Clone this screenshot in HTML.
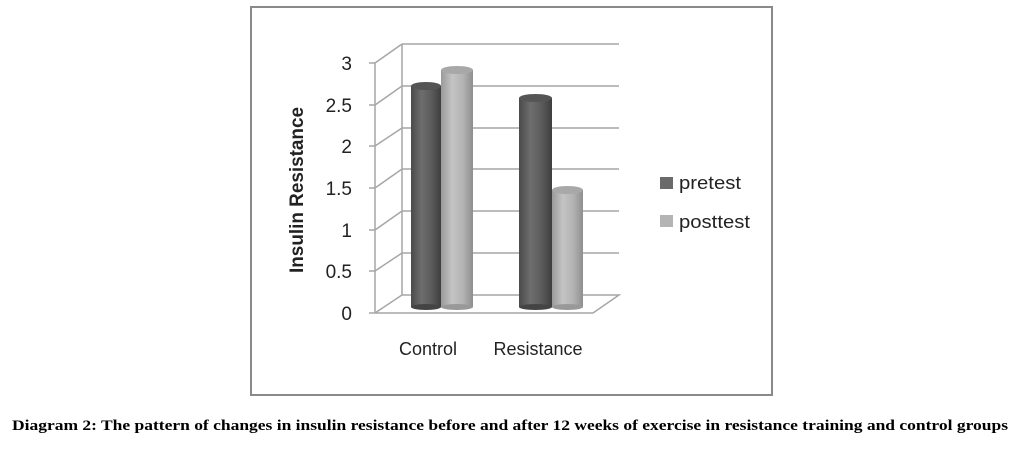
<!DOCTYPE html>
<html><head><style>
body{margin:0;background:#fff;width:1014px;height:448px;overflow:hidden}
</style></head><body>
<svg width="1014" height="448" xmlns="http://www.w3.org/2000/svg">
<defs>
<linearGradient id="d" x1="0" x2="1" y1="0" y2="0">
<stop offset="0" stop-color="#4a4a4a"/><stop offset="0.35" stop-color="#6e6e6e"/><stop offset="0.7" stop-color="#5a5a5a"/><stop offset="1" stop-color="#3e3e3e"/></linearGradient>
<linearGradient id="l" x1="0" x2="1" y1="0" y2="0">
<stop offset="0" stop-color="#9a9a9a"/><stop offset="0.35" stop-color="#c4c4c4"/><stop offset="0.7" stop-color="#b2b2b2"/><stop offset="1" stop-color="#8e8e8e"/></linearGradient>
</defs>
<rect x="251" y="7" width="521" height="388" fill="#fff" stroke="#8a8a8a" stroke-width="2"/>
<g stroke="#a6a6a6" stroke-width="1.5" fill="none">
<line x1="402" y1="44" x2="402" y2="295"/>
<line x1="375" y1="63" x2="375" y2="313"/>
<polyline points="375,313 593,313 619,295 402,295 375,313"/>
<g>
<line x1="402" y1="44" x2="619" y2="44"/><line x1="375" y1="63" x2="402" y2="44"/>
<line x1="402" y1="86" x2="619" y2="86"/><line x1="375" y1="105" x2="402" y2="86"/>
<line x1="402" y1="128" x2="619" y2="128"/><line x1="375" y1="146" x2="402" y2="128"/>
<line x1="402" y1="169" x2="619" y2="169"/><line x1="375" y1="188" x2="402" y2="169"/>
<line x1="402" y1="211" x2="619" y2="211"/><line x1="375" y1="230" x2="402" y2="211"/>
<line x1="402" y1="253" x2="619" y2="253"/><line x1="375" y1="271" x2="402" y2="253"/>
</g>
<line x1="369" y1="63" x2="375" y2="63"/><line x1="369" y1="105" x2="375" y2="105"/><line x1="369" y1="146" x2="375" y2="146"/><line x1="369" y1="188" x2="375" y2="188"/><line x1="369" y1="230" x2="375" y2="230"/><line x1="369" y1="271" x2="375" y2="271"/><line x1="369" y1="313" x2="375" y2="313"/>
</g>
<g>
<rect x="411" y="86" width="30" height="221" fill="url(#d)"/><ellipse cx="426" cy="307" rx="15" ry="3" fill="#444"/><ellipse cx="426" cy="86" rx="15" ry="4" fill="#555"/>
<rect x="441" y="70" width="32" height="237" fill="url(#l)"/><ellipse cx="457" cy="307" rx="16" ry="3" fill="#999"/><ellipse cx="457" cy="70" rx="16" ry="4" fill="#a8a8a8"/>
<rect x="519" y="98" width="33" height="209" fill="url(#d)"/><ellipse cx="535.5" cy="307" rx="16.5" ry="3" fill="#444"/><ellipse cx="535.5" cy="98" rx="16.5" ry="4" fill="#555"/>
<rect x="552" y="190" width="31" height="117" fill="url(#l)"/><ellipse cx="567.5" cy="307" rx="15.5" ry="3" fill="#999"/><ellipse cx="567.5" cy="190" rx="15.5" ry="4" fill="#a8a8a8"/>
</g>
<g font-family="Liberation Sans, sans-serif" font-size="19" fill="#222" text-anchor="end">
<text x="352" y="70">3</text><text x="352" y="112">2.5</text><text x="352" y="153">2</text><text x="352" y="195">1.5</text><text x="352" y="237">1</text><text x="352" y="278">0.5</text><text x="352" y="320">0</text>
</g>
<g font-family="Liberation Sans, sans-serif" font-size="18" fill="#222" text-anchor="middle">
<text x="428" y="355">Control</text><text x="538" y="355">Resistance</text>
</g>
<text transform="translate(303,190) rotate(-90)" font-family="Liberation Sans, sans-serif" font-size="19" font-weight="bold" fill="#222" text-anchor="middle" textLength="166" lengthAdjust="spacingAndGlyphs">Insulin Resistance</text>
<rect x="660" y="177" width="13" height="12" fill="#6a6a6a"/>
<rect x="660" y="215" width="13" height="12" fill="#b4b4b4"/>
<g font-family="Liberation Sans, sans-serif" font-size="18" fill="#222">
<text x="679" y="189" textLength="62" lengthAdjust="spacingAndGlyphs">pretest</text><text x="679" y="228" textLength="71" lengthAdjust="spacingAndGlyphs">posttest</text>
</g>
<text x="12" y="430" font-family="Liberation Serif, serif" font-size="15" font-weight="bold" fill="#000" textLength="996" lengthAdjust="spacingAndGlyphs">Diagram 2: The pattern of changes in insulin resistance before and after 12 weeks of exercise in resistance training and control groups</text>
</svg>
</body></html>
